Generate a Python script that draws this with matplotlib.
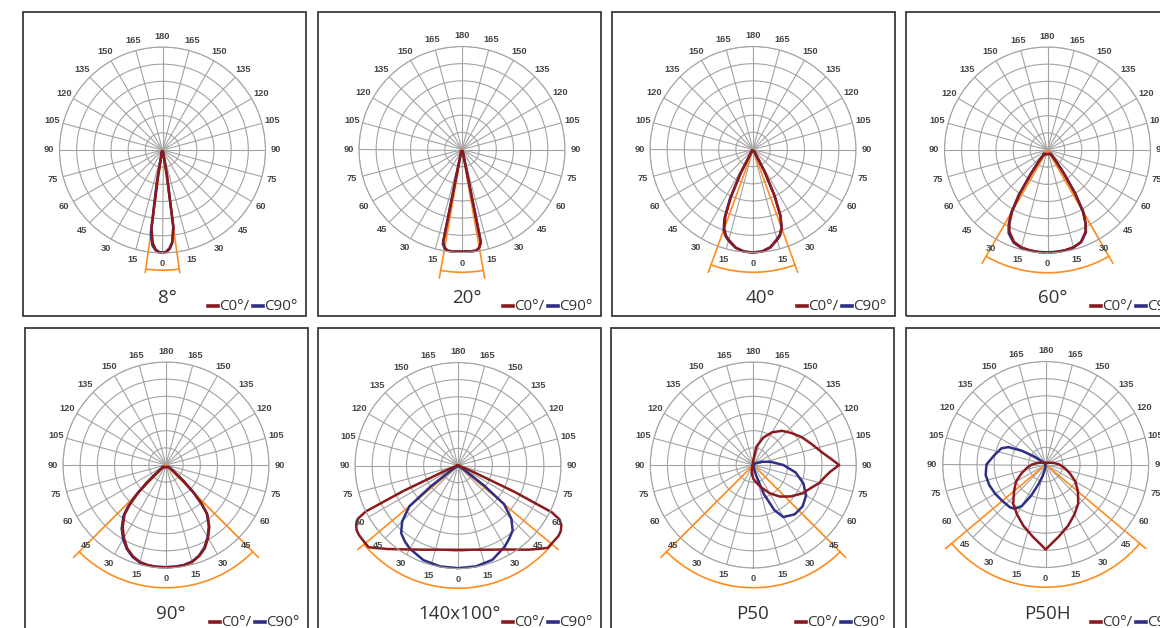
import numpy as np
import matplotlib
matplotlib.use('Agg')
import matplotlib.pyplot as plt
from matplotlib.lines import Line2D
from matplotlib.patches import Rectangle

W, H = 1160, 628

# ---- data (angle from nadir in degrees, right side positive; radius in grid rings 0..6)
titles = ['8°', '20°', '40°', '60°', '90°', '140x100°', 'P50', 'P50H']
beam_half = [8, 10, 20, 30, 45, 50, 45, 50]

ang_c0_8 = [-15, -12, -10, -8, -6, -4, -2, 0, 2, 4, 6, 8, 10, 12, 15]
r_c0_8 = [0.1, 0.3, 1.5, 4.6, 5.45, 5.8, 5.95, 6.0, 5.95, 5.8, 5.45, 4.6, 1.5, 0.3, 0.1]
ang_c90_8 = [-15, -12, -10, -8, -6, -4, -2, 0, 2, 4, 6, 8, 10, 12, 15]
r_c90_8 = [0.15, 0.4, 1.9, 4.9, 5.6, 5.85, 5.95, 5.98, 5.93, 5.75, 5.4, 4.5, 1.4, 0.3, 0.1]

ang_c0_20 = [-20, -15, -11.5, -10, -8, -5, 0, 5, 8, 10, 11.5, 15, 20]
r_c0_20 = [0.1, 0.3, 5.5, 5.8, 5.95, 5.96, 5.95, 5.96, 5.95, 5.8, 5.5, 0.3, 0.1]
ang_c90_20 = [-20, -15, -11.5, -10, -8, -5, 0, 5, 8, 10, 11.5, 15, 20]
r_c90_20 = [0.15, 0.4, 5.6, 5.85, 5.96, 5.97, 5.96, 5.96, 5.95, 5.8, 5.5, 0.3, 0.1]

ang_c0_40 = [-35, -30, -27.5, -25, -22.5, -20, -17.5, -15, -10, -5, 0,
             5, 10, 15, 17.5, 20, 22.5, 25, 27.5, 30, 35]
r_c0_40 = [0.1, 0.3, 1.5, 3.0, 4.2, 4.9, 5.25, 5.45, 5.8, 5.97, 6.0,
           5.97, 5.8, 5.45, 5.25, 4.9, 4.2, 3.0, 1.5, 0.3, 0.1]
ang_c90_40 = ang_c0_40
r_c90_40 = [0.1, 0.4, 1.7, 3.2, 4.35, 5.0, 5.3, 5.5, 5.82, 5.97, 6.0,
            5.96, 5.78, 5.4, 5.2, 4.85, 4.15, 2.9, 1.45, 0.3, 0.1]

ang_c0_60 = [-40, -37.5, -35, -32.5, -30, -27.5, -25, -20, -15, -10, -5, 0,
             5, 10, 15, 20, 25, 27.5, 30, 32.5, 35, 37.5, 40]
r_c0_60 = [0.3, 0.8, 1.6, 3.0, 4.1, 4.8, 5.25, 5.7, 5.87, 5.93, 5.96, 5.96,
           5.96, 5.93, 5.87, 5.7, 5.25, 4.8, 4.1, 3.0, 1.6, 0.8, 0.3]
ang_c90_60 = ang_c0_60
r_c90_60 = [0.35, 0.9, 1.75, 3.15, 4.25, 4.9, 5.35, 5.75, 5.9, 5.95, 5.97, 5.97,
            5.96, 5.93, 5.87, 5.72, 5.3, 4.8, 4.2, 3.0, 1.7, 0.8, 0.3]

ang_c0_90 = [-55, -50, -47.5, -45, -42.5, -40, -35, -30, -25, -20, -15, -10, -5, 0,
             5, 10, 15, 20, 25, 30, 35, 40, 42.5, 45, 47.5, 50, 55]
r_c0_90 = [0.2, 0.6, 1.4, 2.3, 3.1, 3.75, 4.4, 4.9, 5.35, 5.65, 5.85, 5.93, 5.95, 5.95,
           5.95, 5.93, 5.85, 5.65, 5.35, 4.9, 4.4, 3.75, 3.1, 2.3, 1.4, 0.6, 0.2]
ang_c90_90 = ang_c0_90
r_c90_90 = [0.25, 0.7, 1.55, 2.45, 3.25, 3.85, 4.5, 5.0, 5.4, 5.7, 5.88, 5.95, 5.96, 5.96,
            5.95, 5.92, 5.83, 5.62, 5.3, 4.85, 4.35, 3.7, 3.05, 2.25, 1.35, 0.55, 0.2]

ang_c0_140 = [-90, -80, -70, -67, -65, -63.5, -62, -60, -57.5, -55, -50, -47.5, -45, -40,
              -30, -20, -10, 0, 10, 20, 30, 40, 45, 47.5, 50, 55, 57.5, 60, 62, 63.5,
              65, 67, 70, 80, 90]
r_c0_140 = [0.05, 0.1, 0.3, 1.0, 3.5, 6.0, 6.6, 6.85, 7.0, 7.05, 7.05, 7.05, 6.8, 6.35,
            5.65, 5.22, 4.98, 4.91, 4.98, 5.22, 5.65, 6.4, 6.85, 7.1, 7.1, 7.15, 7.1, 6.95,
            6.7, 6.1, 3.6, 1.0, 0.3, 0.1, 0.05]
ang_c90_140 = [-60, -55, -52.5, -50, -45, -40, -35, -30, -20, -10, 0, 10, 20, 30, 35,
               40, 45, 50, 52.5, 55, 60]
r_c90_140 = [0.1, 0.4, 2.0, 3.7, 4.6, 5.15, 5.4, 5.6, 5.87, 5.97, 5.98, 5.97, 5.85, 5.45,
             5.2, 4.95, 4.4, 3.5, 1.9, 0.4, 0.1]

ang_c0_p50 = [-45, -30, -20, -10, 0, 10, 20, 30, 40, 50, 60, 70, 75, 80, 85, 90,
              95, 100, 110, 120, 130, 140, 150, 160, 170, 180]
r_c0_p50 = [0.05, 0.1, 0.25, 0.5, 0.8, 1.05, 1.4, 1.9, 2.4, 2.85, 3.3, 3.7, 4.0, 4.2, 4.5, 5.0,
            4.5, 4.1, 3.6, 3.25, 2.9, 2.6, 2.2, 1.7, 1.1, 0.3]
ang_c90_p50 = [0, 10, 15, 20, 25, 30, 40, 50, 60, 70, 80, 90, 100, 110, 120, 135, 150]
r_c90_p50 = [0.05, 0.2, 0.6, 1.8, 2.9, 3.5, 3.75, 3.75, 3.55, 3.1, 2.5, 1.75, 1.05, 0.55, 0.25, 0.1, 0.05]

ang_c0_p50h = [-110, -100, -90, -80, -70, -60, -50, -40, -30, -20, -10, -5, 0,
               5, 10, 20, 30, 40, 50, 60, 70, 80, 90, 100, 110]
r_c0_p50h = [0.3, 0.5, 0.8, 1.1, 1.5, 2.0, 2.4, 2.95, 3.35, 3.8, 4.28, 4.57, 4.95,
             4.57, 4.28, 3.8, 3.35, 2.95, 2.45, 2.0, 1.5, 1.1, 0.8, 0.5, 0.3]
ang_c90_p50h = [-140, -130, -125, -120, -115, -110, -100, -90, -80, -70, -60, -50,
                -40, -35, -30, -25, -20, -15, -10, 0]
r_c90_p50h = [0.1, 0.3, 0.8, 1.6, 2.4, 2.75, 3.05, 3.45, 3.55, 3.5, 3.4, 3.3,
              3.25, 3.15, 2.8, 2.0, 1.2, 0.7, 0.3, 0.05]

curves = [
    (ang_c0_8, r_c0_8, ang_c90_8, r_c90_8),
    (ang_c0_20, r_c0_20, ang_c90_20, r_c90_20),
    (ang_c0_40, r_c0_40, ang_c90_40, r_c90_40),
    (ang_c0_60, r_c0_60, ang_c90_60, r_c90_60),
    (ang_c0_90, r_c0_90, ang_c90_90, r_c90_90),
    (ang_c0_140, r_c0_140, ang_c90_140, r_c90_140),
    (ang_c0_p50, r_c0_p50, ang_c90_p50, r_c90_p50),
    (ang_c0_p50h, r_c0_p50h, ang_c90_p50h, r_c90_p50h),
]

# ---- layout in pixels
frames = [(23, 12), (318, 12), (612, 12), (906, 12),
          (25, 328), (318, 328), (611, 328), (906, 328)]
frame_w, frame_h = 283, 304
centers = [(162.5, 150), (462, 149.5), (753, 149.5), (1047.5, 150),
           (166, 465), (458, 465.5), (753.3, 465), (1045.7, 464.5)]
title_x = [167, 467, 760, 1053, 171, 460, 752, 1047]
R = 103

RED = '#8b1a1f'
BLUE = '#2e2f86'
ORANGE = '#ff8c1f'
GRID = '#a3a3a3'

fig = plt.figure(figsize=(W / 100, H / 100), dpi=100)


def fx(px):
    return px / W


def fy(py):
    return 1 - py / H


for i in range(8):
    x0, y0 = frames[i]
    fig.add_artist(Rectangle((fx(x0), fy(y0 + frame_h)), frame_w / W, frame_h / H,
                             transform=fig.transFigure, fill=False,
                             edgecolor='#3a3a3a', lw=1.3))
    cx, cy = centers[i]
    ax = fig.add_axes([fx(cx - R), fy(cy + R), 2 * R / W, 2 * R / H], projection='polar')
    ax.set_theta_zero_location('S')
    ax.set_theta_direction(1)
    ax.set_ylim(0, 6)
    ax.set_yticks([1, 2, 3, 4, 5, 6])
    ax.set_yticklabels([])
    ax.set_xticks(np.deg2rad(np.arange(0, 360, 15)))
    ax.set_xticklabels([])
    ax.grid(color=GRID, lw=0.8)
    ax.spines['polar'].set_color(GRID)
    ax.spines['polar'].set_linewidth(0.8)
    ax.tick_params(length=0)

    for t in range(0, 360, 15):
        lab = t if t <= 180 else 360 - t
        ax.text(np.deg2rad(t), 6.62, str(lab), ha='center', va='center',
                fontsize=6.7, fontweight='bold', color='#454545',
                family='Liberation Sans', clip_on=False)

    # beam angle marks
    hb = np.deg2rad(beam_half[i])
    line_r = 7.2 if i == 0 else 7.6
    arc_r = 7.0 if i == 0 else 7.15
    ax.plot([-hb, -hb], [0, line_r], color=ORANGE, lw=1.2, clip_on=False)
    ax.plot([hb, hb], [0, line_r], color=ORANGE, lw=1.2, clip_on=False)
    arc_t = np.linspace(-hb, hb, 60)
    ax.plot(arc_t, np.full_like(arc_t, arc_r), color=ORANGE, lw=1.2, clip_on=False)

    a0, r0, a90, r90 = curves[i]
    ax.plot(np.deg2rad(a90 + [a90[0]]), r90 + [r90[0]], color=BLUE, lw=1.8,
            clip_on=False, solid_joinstyle='round')
    ax.plot(np.deg2rad(a0 + [a0[0]]), r0 + [r0[0]], color=RED, lw=1.8,
            clip_on=False, solid_joinstyle='round')

    # title and legend
    fig.text(fx(title_x[i]), fy(y0 + 286), titles[i], ha='center', va='center',
             fontsize=13.5, color='#333333', family='Open Sans')
    ly = fy(y0 + 294)
    fig.add_artist(Line2D([fx(x0 + 185), fx(x0 + 195)], [ly, ly], color=RED, lw=2.6,
                          transform=fig.transFigure))
    fig.text(fx(x0 + 196), ly, 'C0°/', ha='left', va='center', fontsize=11,
             color='#333333', family='Open Sans')
    fig.add_artist(Line2D([fx(x0 + 230), fx(x0 + 240)], [ly, ly], color=BLUE, lw=2.6,
                          transform=fig.transFigure))
    fig.text(fx(x0 + 241), ly, 'C90°', ha='left', va='center', fontsize=11,
             color='#333333', family='Open Sans')

fig.savefig('out.png', dpi=100)
